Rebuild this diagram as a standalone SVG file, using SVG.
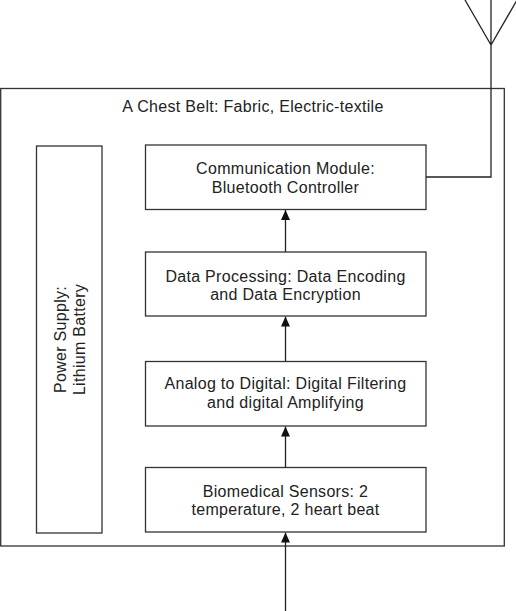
<svg xmlns="http://www.w3.org/2000/svg" width="516" height="611" viewBox="0 0 516 611">
<style>
.box{fill:#fff;stroke:#333;stroke-width:1.3}
.ln{fill:none;stroke:#222;stroke-width:1.3}
.t{font-family:"Liberation Sans",Arial,sans-serif;font-size:16px;letter-spacing:0.3px;fill:#222;text-anchor:middle}
</style>
<defs>
<marker id="ah" markerWidth="10" markerHeight="10" refX="10" refY="5" orient="auto" markerUnits="userSpaceOnUse">
<path d="M0,0.5 L10,5 L0,9.5 Z" fill="#111"/>
</marker>
</defs>
<g id="chest-belt">
<rect class="box" x="0.7" y="88.5" width="503.6" height="457.5"/>
<text class="t" x="253" y="112">A Chest Belt: Fabric, Electric-textile</text>
</g>
<g id="antenna">
<path class="ln" d="M426,177 L491,177 L491,0 M491,45 L465,0 M491,45 L517,0"/>
</g>
<g id="power-supply">
<rect class="box" x="36.5" y="146" width="65.5" height="387"/>
<text class="t" transform="translate(66,339.5) rotate(-90)">Power Supply:</text>
<text class="t" transform="translate(85,339.5) rotate(-90)">Lithium Battery</text>
</g>
<g id="communication">
<rect class="box" x="145.5" y="145" width="280.5" height="64.5"/>
<text class="t" x="285.5" y="174">Communication Module:</text>
<text class="t" x="285.5" y="193">Bluetooth Controller</text>
</g>
<g id="data-processing">
<rect class="box" x="145.5" y="252" width="280.5" height="64"/>
<text class="t" x="285.5" y="282">Data Processing: Data Encoding</text>
<text class="t" x="285.5" y="300">and Data Encryption</text>
</g>
<g id="analog-digital">
<rect class="box" x="145.5" y="361.5" width="280.5" height="64.5"/>
<text class="t" x="285.5" y="389">Analog to Digital: Digital Filtering</text>
<text class="t" x="285.5" y="408">and digital Amplifying</text>
</g>
<g id="sensors">
<rect class="box" x="145.5" y="467.5" width="280.5" height="64.5"/>
<text class="t" x="285.5" y="497">Biomedical Sensors: 2</text>
<text class="t" x="285.5" y="515">temperature, 2 heart beat</text>
</g>
<g id="connectors">
<line class="ln" x1="285.5" y1="611" x2="285.5" y2="532.5" marker-end="url(#ah)"/>
<line class="ln" x1="285.5" y1="467.5" x2="285.5" y2="426.5" marker-end="url(#ah)"/>
<line class="ln" x1="285.5" y1="361.5" x2="285.5" y2="316.5" marker-end="url(#ah)"/>
<line class="ln" x1="285.5" y1="252" x2="285.5" y2="210" marker-end="url(#ah)"/>
</g>
</svg>
